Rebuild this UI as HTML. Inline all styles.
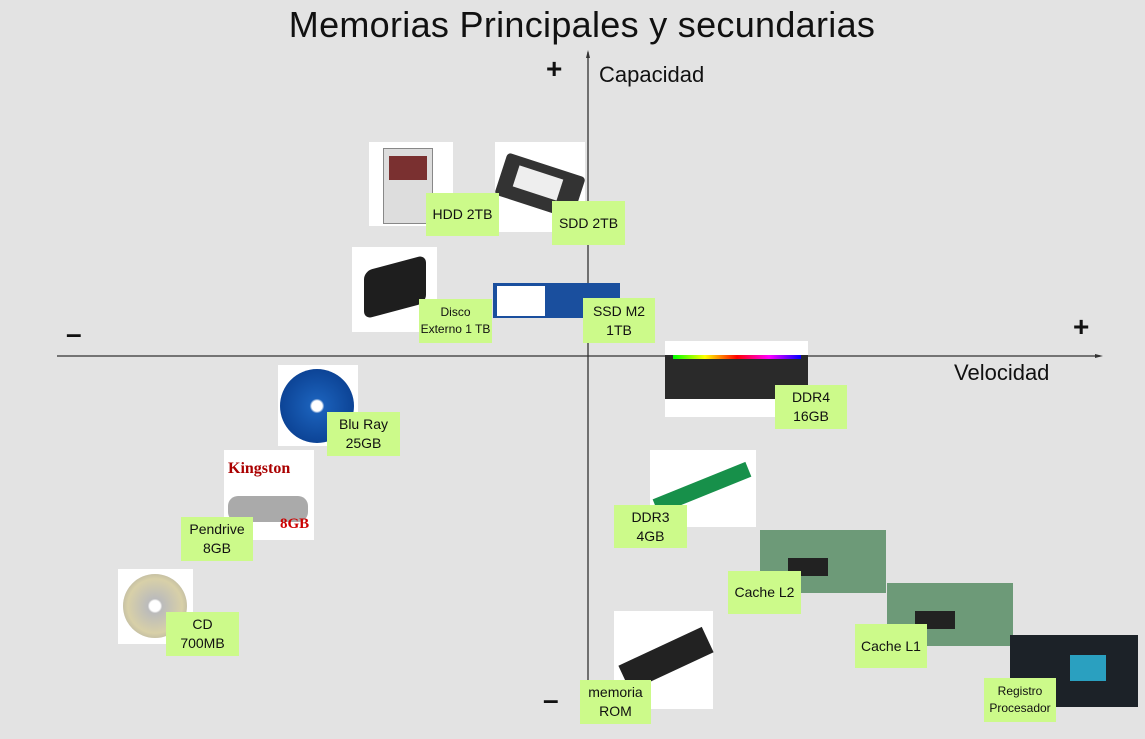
<!DOCTYPE html>
<html><head><meta charset="utf-8"><style>
body{margin:0;width:1145px;height:739px;background:#e3e3e3;position:relative;overflow:hidden;font-family:"Liberation Sans",sans-serif;color:#111}
div{position:absolute;box-sizing:border-box}
.w{background:#fff}
.l{background:#ccfa8a;display:flex;align-items:center;justify-content:center;text-align:center;font-size:14px;line-height:19px}
.s{font-size:12px;line-height:17px}
</style></head><body>
<div style="left:0;top:4px;width:1164px;text-align:center;font-size:36px;letter-spacing:0.3px">Memorias Principales y secundarias</div>
<div style="left:599px;top:62px;font-size:22px">Capacidad</div>
<div style="left:546px;top:53px;font-size:28px;font-weight:bold">+</div>
<div style="left:66px;top:318px;font-size:28px;font-weight:bold">–</div>
<div style="left:1073px;top:311px;font-size:28px;font-weight:bold">+</div>
<div style="left:543px;top:684px;font-size:28px;font-weight:bold">–</div>
<div style="left:954px;top:360px;font-size:22px">Velocidad</div>
<svg style="position:absolute;left:0;top:0" width="1145" height="739">
<line x1="588" y1="52" x2="588" y2="722" stroke="#333" stroke-width="1.3"/>
<polygon points="588,50 586,58 590,58" fill="#333"/>
<line x1="57" y1="356" x2="1100" y2="356" stroke="#333" stroke-width="1.3"/>
<polygon points="1103,356 1095,354 1095,358" fill="#333"/>
</svg>
<!-- images -->
<div class="w" style="left:369px;top:142px;width:84px;height:84px"><div style="left:14px;top:6px;width:50px;height:76px;background:#ddd;border:1px solid #888"></div><div style="left:20px;top:14px;width:38px;height:24px;background:#7a3030"></div></div>
<div class="w" style="left:495px;top:142px;width:90px;height:90px"><div style="left:4px;top:22px;width:82px;height:44px;background:#333;transform:rotate(18deg);border-radius:4px"></div><div style="left:20px;top:30px;width:46px;height:22px;background:#eee;transform:rotate(18deg)"></div></div>
<div class="w" style="left:352px;top:247px;width:85px;height:85px"><div style="left:12px;top:16px;width:62px;height:48px;background:#1e1e1e;border-radius:8px;transform:skewY(-15deg)"></div></div>
<div style="left:493px;top:283px;width:127px;height:35px;background:#1a4f9e"><div style="left:4px;top:3px;width:48px;height:30px;background:#fff"></div></div>
<div class="w" style="left:665px;top:341px;width:143px;height:76px"><div style="left:0;top:14px;width:143px;height:44px;background:#2a2a2a"></div><div style="left:8px;top:14px;width:128px;height:4px;background:linear-gradient(90deg,#0f0,#ff0,#f00,#f0f,#00f)"></div></div>
<div class="w" style="left:278px;top:365px;width:80px;height:81px"><div style="left:2px;top:4px;width:74px;height:74px;border-radius:50%;background:radial-gradient(circle,#fff 10%,#1a5fb8 14%,#0a3f90 80%)"></div></div>
<div class="w" style="left:224px;top:450px;width:90px;height:90px"><div style="left:4px;top:10px;font:bold 16px 'Liberation Serif',serif;color:#a00">Kingston</div><div style="left:4px;top:46px;width:80px;height:26px;background:#aaa;border-radius:10px"></div><div style="left:56px;top:66px;font:bold 15px 'Liberation Serif',serif;color:#c00">8GB</div></div>
<div class="w" style="left:118px;top:569px;width:75px;height:75px"><div style="left:5px;top:5px;width:64px;height:64px;border-radius:50%;background:radial-gradient(circle,#fff 12%,#bbb 16%,#d8d0a8 60%,#999 100%)"></div></div>
<div class="w" style="left:650px;top:450px;width:106px;height:77px"><div style="left:2px;top:30px;width:100px;height:16px;background:#17904a;transform:rotate(-22deg)"></div></div>
<div style="left:760px;top:530px;width:126px;height:63px;background:#6d9a78"><div style="left:28px;top:28px;width:40px;height:18px;background:#222"></div></div>
<div style="left:887px;top:583px;width:126px;height:63px;background:#6d9a78"><div style="left:28px;top:28px;width:40px;height:18px;background:#222"></div></div>
<div style="left:1010px;top:635px;width:128px;height:72px;background:#1c2228"><div style="left:60px;top:20px;width:36px;height:26px;background:#2aa0c0"></div></div>
<div class="w" style="left:614px;top:611px;width:99px;height:98px"><div style="left:6px;top:34px;width:92px;height:28px;background:#222;transform:rotate(-25deg)"></div></div>
<!-- labels -->
<div class="l" style="left:426px;top:193px;width:73px;height:43px">HDD 2TB</div>
<div class="l" style="left:552px;top:201px;width:73px;height:44px">SDD 2TB</div>
<div class="l s" style="left:419px;top:299px;width:73px;height:44px">Disco<br>Externo 1 TB</div>
<div class="l" style="left:583px;top:298px;width:72px;height:45px">SSD M2<br>1TB</div>
<div class="l" style="left:775px;top:385px;width:72px;height:44px">DDR4<br>16GB</div>
<div class="l" style="left:327px;top:412px;width:73px;height:44px">Blu Ray<br>25GB</div>
<div class="l" style="left:181px;top:517px;width:72px;height:44px">Pendrive<br>8GB</div>
<div class="l" style="left:166px;top:612px;width:73px;height:44px">CD<br>700MB</div>
<div class="l" style="left:614px;top:505px;width:73px;height:43px">DDR3<br>4GB</div>
<div class="l" style="left:728px;top:571px;width:73px;height:43px">Cache L2</div>
<div class="l" style="left:855px;top:624px;width:72px;height:44px">Cache L1</div>
<div class="l s" style="left:984px;top:678px;width:72px;height:44px">Registro<br>Procesador</div>
<div class="l" style="left:580px;top:680px;width:71px;height:44px">memoria<br>ROM</div>
</body></html>
